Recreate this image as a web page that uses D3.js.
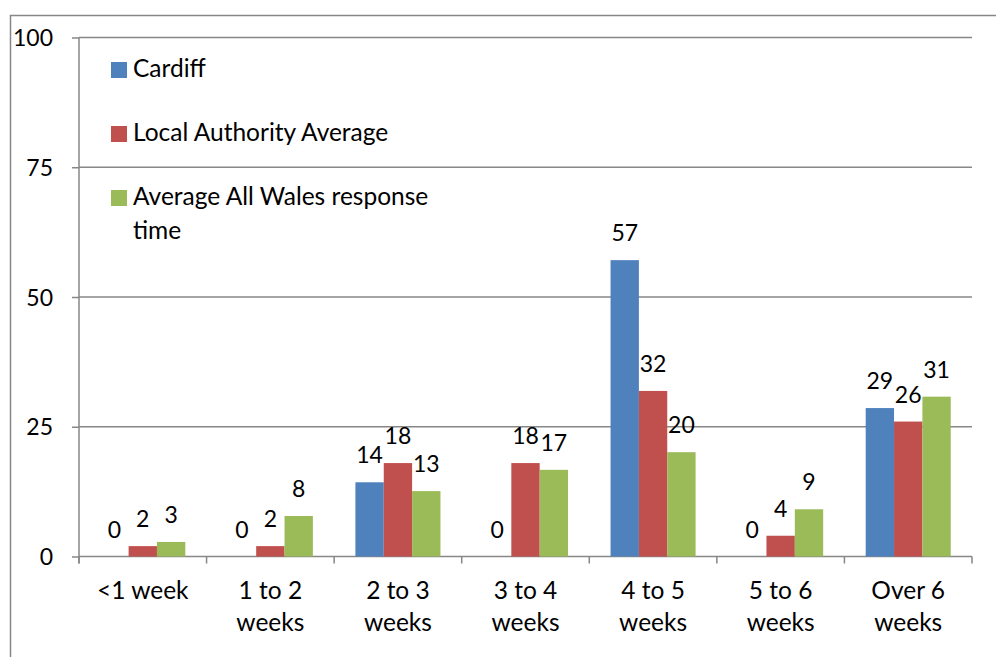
<!DOCTYPE html>
<html>
<head>
<meta charset="utf-8">
<script src="https://cdn.jsdelivr.net/npm/d3@7/dist/d3.min.js"></script>
<style>
  body { margin: 0; background: #fff; }
  text { font-family: Lato, "Open Sans", sans-serif; fill: #000; }
</style>
</head>
<body>
<div id="chart"></div>
<script>
// categories (two lines each) and the three series
var categories = ["<1 week", "1 to 2 weeks", "2 to 3 weeks", "3 to 4 weeks", "4 to 5 weeks", "5 to 6 weeks", "Over 6 weeks"];
var catLines   = [["<1 week"], ["1 to 2", "weeks"], ["2 to 3", "weeks"], ["3 to 4", "weeks"], ["4 to 5", "weeks"], ["5 to 6", "weeks"], ["Over 6", "weeks"]];
var seriesNames = ["Cardiff", "Local Authority Average", "Average All Wales response time"];
var cardiff  = [0, 0, 14.3, 0, 57.1, 0, 28.6];
var laAvg    = [2.0, 2.0, 18.0, 18.0, 31.9, 4.0, 26.0];
var walesAvg = [2.8, 7.8, 12.6, 16.7, 20.1, 9.1, 30.8];
var yTicks = [0, 25, 50, 75, 100];

var colors = ["#4F81BD", "#C0504D", "#9BBB59"],
    gridColor = "#878787",
    fontSize = 24.5,   // words
    numSize = 23;      // numbers (Lato digits are wider than the original's)

var width = 996, height = 657,
    plot = {left: 79, right: 972, top: 37.5, bottom: 556.5};

var svg = d3.select("#chart").append("svg")
    .attr("width", width)
    .attr("height", height);

// outer chart border (runs off the right and bottom)
svg.append("rect")
    .attr("x", 10.5).attr("y", 15.5)
    .attr("width", 1000).attr("height", 700)
    .style("fill", "none")
    .style("stroke", gridColor)
    .style("stroke-width", 1.5);

var x = d3.scaleBand()
    .domain(categories)
    .range([plot.left, plot.right])
    .paddingInner(0)
    .paddingOuter(0);

var bw = x.bandwidth() / 4.5;  // gap width 150%

var xs = d3.scaleBand()
    .domain(d3.range(3))
    .range([0, bw * 3]);

var y = d3.scaleLinear()
    .domain([0, 100])
    .range([plot.bottom, plot.top]);

// gridlines
svg.append("g").selectAll("line")
    .data(yTicks.filter(function(d){ return d > 0; }))
    .enter().append("line")
    .attr("x1", plot.left).attr("x2", plot.right)
    .attr("y1", function(d){ return y(d); })
    .attr("y2", function(d){ return y(d); })
    .style("stroke", gridColor)
    .style("stroke-width", 1.5);

// y axis
var yAxis = svg.append("g")
    .attr("transform", "translate(" + plot.left + ",0)")
    .call(d3.axisLeft(y).tickValues(yTicks).tickSize(7).tickPadding(19));
yAxis.select(".domain").remove();
yAxis.append("line")
    .attr("x1", 0).attr("x2", 0)
    .attr("y1", plot.top).attr("y2", plot.bottom + 7);
yAxis.selectAll("line").style("stroke", gridColor).style("stroke-width", 1.5);
yAxis.selectAll("text")
    .style("font-family", "Lato, 'Open Sans', sans-serif")
    .style("font-size", numSize + "px")
    .attr("dy", "0.35em")
    .style("fill", "#000");

// x axis
var xAxis = svg.append("g")
    .attr("transform", "translate(0," + plot.bottom + ")")
    .call(d3.axisBottom(x).tickSize(0).tickFormat(""));
xAxis.select(".domain")
    .attr("d", "M" + plot.left + ",0H" + plot.right)
    .style("stroke", gridColor)
    .style("stroke-width", 1.5);
xAxis.selectAll(".tick").remove();
xAxis.selectAll(".sep")
    .data(d3.range(categories.length + 1))
    .enter().append("line")
    .attr("x1", function(i){ return plot.left + i * x.step(); })
    .attr("x2", function(i){ return plot.left + i * x.step(); })
    .attr("y1", 0).attr("y2", 7)
    .style("stroke", gridColor)
    .style("stroke-width", 1.5);

xAxis.selectAll(".lbl")
    .data(categories)
    .enter().append("text")
    .attr("class", "lbl")
    .attr("text-anchor", "middle")
    .style("font-size", fontSize + "px")
    .attr("transform", function(d){ return "translate(" + (x(d) + x.bandwidth() / 2) + ",0)"; })
    .each(function(d, i){
      var t = d3.select(this);
      catLines[i].forEach(function(line, j){
        t.append("tspan").attr("x", 0).attr("y", 42 + j * 32).text(line);
      });
    });

// bars
var series = [cardiff, laAvg, walesAvg];
var groups = svg.append("g").selectAll("g")
    .data(categories)
    .enter().append("g")
    .attr("transform", function(d){ return "translate(" + (x(d) + x.bandwidth() / 2 - bw * 1.5) + ",0)"; });

groups.each(function(c, i){
  var g = d3.select(this);
  var vals = series.map(function(s){ return s[i]; });
  g.selectAll("rect")
    .data(vals)
    .enter().append("rect")
    .attr("x", function(v, k){ return xs(k); })
    .attr("width", xs.bandwidth())
    .attr("y", function(v){ return y(v); })
    .attr("height", function(v){ return y(0) - y(v); })
    .style("fill", function(v, k){ return colors[k]; });
  g.selectAll("text")
    .data(vals)
    .enter().append("text")
    .attr("x", function(v, k){ return xs(k) + xs.bandwidth() / 2; })
    .attr("y", function(v){ return y(v) - 19; })
    .attr("text-anchor", "middle")
    .style("font-size", numSize + "px")
    .text(function(v){ return d3.format(".0f")(v); });
});

// legend
var legend = svg.append("g").selectAll("g")
    .data(seriesNames)
    .enter().append("g")
    .attr("transform", function(d, i){ return "translate(111," + (62 + i * 64) + ")"; });
legend.append("rect")
    .attr("width", 16).attr("height", 16)
    .style("fill", function(d, i){ return colors[i]; });
legend.append("text")
    .style("font-size", fontSize + "px")
    .each(function(d, i){
      var t = d3.select(this);
      var lines = i == 2 ? ["Average All Wales response", "time"] : [d];
      lines.forEach(function(line, j){
        t.append("tspan").attr("x", 22).attr("y", 15 + j * 34).text(line);
      });
    });
</script>
</body>
</html>
